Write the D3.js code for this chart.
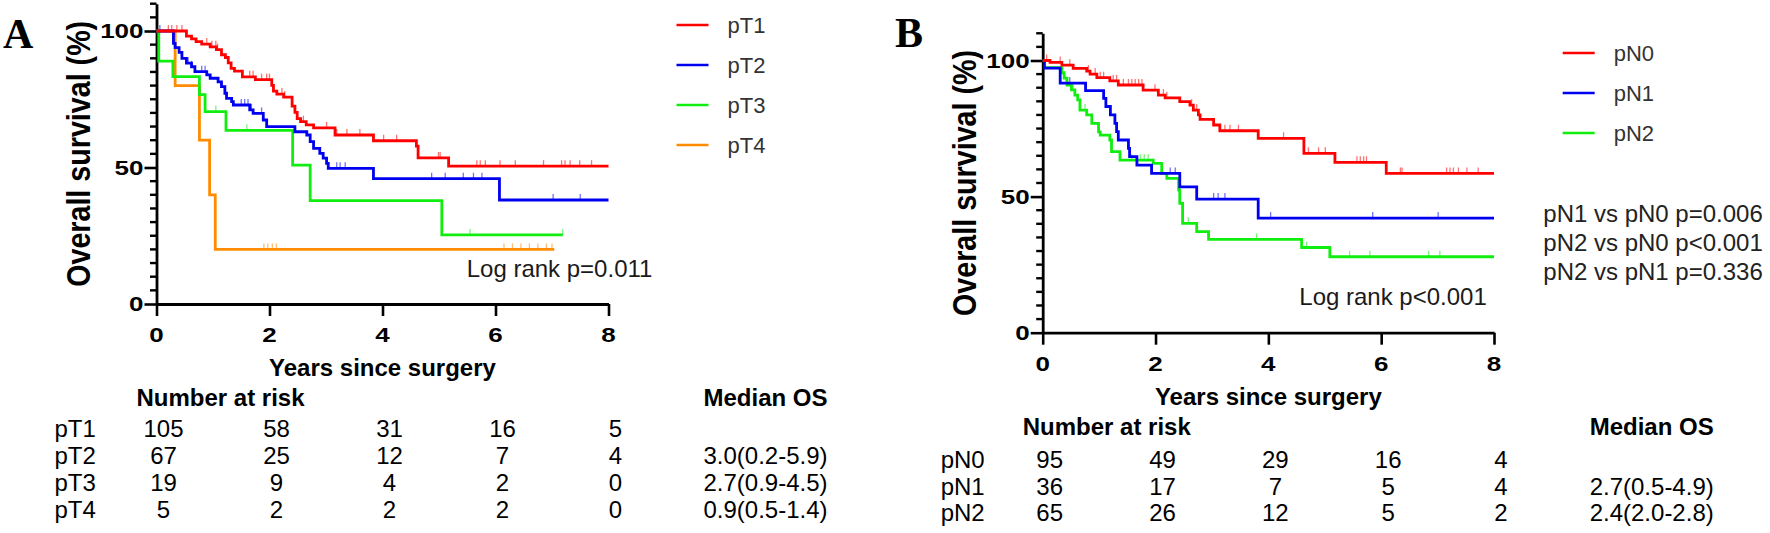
<!DOCTYPE html>
<html>
<head>
<meta charset="utf-8">
<script src="https://cdn.jsdelivr.net/npm/d3@7"></script>
<style>
html,body{margin:0;padding:0;background:#fff;}
svg{display:block;}
</style>
</head>
<body>
<svg id="chart" width="1770" height="533"></svg>
<script>
// ---------------- DATA ----------------
const riskTimes = [0, 2, 4, 6, 8];
const xTicks = [0, 2, 4, 6, 8];
const yTicksMajor = [0, 50, 100];
const yTicksMinor = [5, 10, 15, 20, 25, 30, 35, 40, 45, 55, 60, 65, 70, 75, 80, 85, 90, 95, 105, 110];

// Panel A : pT stage  (step points: [years, survival %])
const namesA = ["pT1", "pT2", "pT3", "pT4"];
const colorsA = ["#ff0000", "#0000f0", "#10ee10", "#ff8c00"];
const stepsT1 = [[0,100],[0.53,98.1],[0.62,97.1],[0.70,96.1],[0.80,95.2],[0.95,94.2],[1.06,93.2],[1.15,91.3],[1.22,90.3],[1.27,88.3],[1.32,86.3],[1.38,85.3],[1.52,83.2],[1.75,82.2],[2.04,80.1],[2.07,78.0],[2.13,76.9],[2.25,75.8],[2.40,72.5],[2.45,70.2],[2.49,67.9],[2.55,66.8],[2.65,65.6],[2.78,64.5],[3.16,61.9],[3.84,59.8],[4.60,57.8],[4.63,53.5],[5.17,50.5]];
const stepsT2 = [[0,100],[0.30,95.5],[0.33,93.9],[0.40,92.2],[0.45,90.0],[0.53,88.2],[0.62,86.9],[0.68,85.1],[0.89,83.9],[0.95,82.7],[1.09,81.4],[1.15,79.6],[1.21,77.2],[1.24,75.3],[1.33,74.1],[1.36,72.9],[1.65,71.1],[1.71,69.8],[1.89,67.4],[1.95,65.0],[2.45,63.1],[2.66,61.9],[2.72,59.5],[2.78,57.0],[2.89,55.2],[2.95,53.4],[3.01,51.5],[3.04,49.7],[3.84,45.9],[6.07,38.1]];
const stepsT3 = [[0,100],[0.04,89.0],[0.29,83.3],[0.76,76.7],[0.86,70.5],[1.23,63.6],[2.41,50.9],[2.72,37.9],[5.05,25.3]];
const stepsT4 = [[0,100],[0.33,80],[0.76,60],[0.94,40],[1.04,20]];
const endA = [8.0, 8.0, 7.19, 7.04];
const censT1 = [0.21,0.27,0.36,0.45,0.89,0.98,1.05,1.08,1.65,1.71,1.86,1.95,2.0,2.04,2.22,2.27,2.6,3.01,3.19,3.37,3.6,4.02,4.25,4.99,5.02,5.67,5.73,5.82,6.08,6.35,6.85,7.17,7.23,7.32,7.49,7.70];
const censT2 = [0.06,0.56,0.62,0.80,0.86,1.50,1.56,1.62,1.68,1.86,3.19,3.25,3.34,4.87,5.11,5.43,5.61,5.76,7.02,7.50];
const censT3 = [1.05,1.60,5.55,7.19];
const censT4 = [1.9,1.97,2.05,2.12,6.15,6.3,6.45,6.6,6.75,6.9,7.0];
const riskT1 = [105, 58, 31, 16, 5];
const riskT2 = [67, 25, 12, 7, 4];
const riskT3 = [19, 9, 4, 2, 0];
const riskT4 = [5, 2, 2, 2, 0];
const medianA = ["", "3.0(0.2-5.9)", "2.7(0.9-4.5)", "0.9(0.5-1.4)"];

// Panel B : pN stage
const namesB = ["pN0", "pN1", "pN2"];
const colorsB = ["#ff0000", "#0000f0", "#10ee10"];
const stepsN0 = [[0,100],[0.13,99.3],[0.34,98.3],[0.54,97.1],[0.78,96.1],[0.84,95.0],[0.96,93.7],[1.19,92.5],[1.34,91.0],[1.78,89.1],[2.05,87.3],[2.17,86.3],[2.43,84.9],[2.61,83.6],[2.67,81.8],[2.76,80.0],[2.79,78.4],[3.03,76.3],[3.14,74.2],[3.82,71.4],[4.63,65.9],[5.18,62.6],[6.09,58.5]];
const stepsN1 = [[0,100],[0.03,97.2],[0.31,91.7],[0.76,88.9],[1.08,86.1],[1.12,83.1],[1.20,80.0],[1.28,76.9],[1.31,73.9],[1.34,70.8],[1.52,67.7],[1.54,64.7],[1.67,61.6],[1.93,58.5],[2.43,53.6],[2.73,49.1],[3.82,42.1]];
const stepsN2 = [[0,100],[0.03,97.4],[0.34,95.5],[0.38,93.5],[0.43,91.0],[0.51,89.2],[0.57,87.3],[0.62,85.5],[0.66,81.8],[0.78,80.0],[0.87,76.9],[0.99,73.8],[1.02,72.6],[1.19,70.8],[1.22,66.5],[1.37,63.4],[1.96,62.2],[2.11,58.5],[2.20,56.7],[2.41,52.4],[2.43,47.5],[2.48,40.2],[2.73,37.1],[2.94,34.3],[4.59,31.3],[5.09,27.9]];
const endB = [8.0, 8.0, 8.0];
const censN0 = [0.07,0.31,0.48,0.81,0.93,1.02,1.08,1.25,1.31,1.43,1.52,1.58,1.64,1.70,1.76,1.99,2.14,2.2,2.64,2.67,2.73,3.23,3.32,3.47,4.27,4.71,4.89,5.01,5.57,5.63,5.69,5.74,6.34,6.37,7.16,7.22,7.28,7.37,7.52,7.72];
const censN1 = [0.43,0.48,2.26,2.35,3.03,3.11,3.23,4.04,5.85,7.01];
const censN2 = [0.54,0.75,1.58,1.73,1.80,1.87,2.58,3.79,4.68,5.44,5.80,6.84,7.04];
const riskN0 = [95, 49, 29, 16, 4];
const riskN1 = [36, 17, 7, 5, 4];
const riskN2 = [65, 26, 12, 5, 2];
const medianB = ["", "2.7(0.5-4.9)", "2.4(2.0-2.8)"];
const pairwiseB = ["pN1 vs pN0 p=0.006", "pN2 vs pN0 p<0.001", "pN2 vs pN1 p=0.336"];

// ---------------- DRAW ----------------
const SANS = '"Liberation Sans",Arial,Helvetica,sans-serif';
const SERIF = '"Liberation Serif","Times New Roman",serif';
const svg = d3.select("#chart").style("font-family", SANS);

function survAt(steps, t) {
  let s = steps[0][1];
  for (const p of steps) { if (p[0] <= t) s = p[1]; }
  return s;
}

function stretchText(g, x, y, str, opts) {
  const t = g.append("text")
    .attr("transform", `translate(${x},${y}) scale(${opts.sx || 1},1)`)
    .attr("text-anchor", opts.anchor || "start")
    .attr("font-size", opts.size)
    .attr("font-weight", opts.weight || "normal")
    .attr("fill", opts.fill || "#000")
    .text(str);
  if (opts.dy) t.attr("dy", opts.dy);
  return t;
}

function panel(cfg) {
  const g = svg.append("g");
  const x = d3.scaleLinear().domain([0, 8]).range(cfg.xr);
  const y = d3.scaleLinear().domain([0, 100]).range(cfg.yr);

  // panel letter
  g.append("text").attr("x", cfg.letterX).attr("y", cfg.letterY)
    .style("font-family", SERIF)
    .attr("font-weight", "bold").attr("font-size", 42).text(cfg.letter);

  // Y axis minor ticks (drawn from the scale)
  g.append("g").selectAll("line").data(yTicksMinor).join("line")
    .attr("x1", x(0) - 6.5).attr("x2", x(0))
    .attr("y1", d => y(d)).attr("y2", d => y(d))
    .attr("stroke", "#000").attr("stroke-width", 2.4);

  // Y axis (0..110) with major ticks
  const yFull = d3.scaleLinear().domain([0, 110]).range([y(0), y(110)]);
  const yMaj = g.append("g").attr("transform", `translate(${x(0)},0)`)
    .call(d3.axisLeft(yFull).tickValues(yTicksMajor).tickSize(12).tickSizeOuter(0).tickFormat(""));
  yMaj.select(".domain").attr("stroke", "#000").attr("stroke-width", 2.8);
  yMaj.selectAll(".tick line").attr("stroke", "#000").attr("stroke-width", 2.6);
  yTicksMajor.forEach(v => {
    stretchText(g, x(0) - 13, y(v), String(v), {anchor: "end", size: 20, weight: "bold", sx: 1.3, dy: "0.36em"});
  });

  // X axis
  const xAx = g.append("g").attr("transform", `translate(0,${y(0)})`)
    .call(d3.axisBottom(x).tickValues(xTicks).tickSize(12).tickSizeOuter(0).tickFormat(""));
  xAx.select(".domain").attr("stroke", "#000").attr("stroke-width", 2.8);
  xAx.selectAll(".tick line").attr("stroke", "#000").attr("stroke-width", 2.6);
  xTicks.forEach(v => {
    stretchText(g, x(v), y(0) + 31, String(v), {anchor: "middle", size: 20, weight: "bold", sx: 1.3, dy: "0.36em"});
  });

  // Y label
  const ymid = (y(0) + yFull(110)) / 2;
  g.append("text")
    .attr("transform", `translate(${x(0) - 67},${ymid}) rotate(-90) scale(1,1.1)`)
    .attr("text-anchor", "middle").attr("font-size", 31).attr("font-weight", "bold")
    .attr("textLength", 266).attr("lengthAdjust", "spacingAndGlyphs")
    .text("Overall survival (%)");

  // X label
  g.append("text").attr("x", (x(0) + x(8)) / 2).attr("y", y(0) + 72)
    .attr("text-anchor", "middle").attr("font-size", 24).attr("font-weight", "bold")
    .text("Years since surgery");

  // curves
  const line = d3.line().x(d => x(d[0])).y(d => y(d[1])).curve(d3.curveStepAfter);
  cfg.series.forEach((s, i) => {
    g.append("g").selectAll("line").data(s.cens).join("line")
      .attr("x1", d => x(d)).attr("x2", d => x(d))
      .attr("y1", d => y(survAt(s.steps, d))).attr("y2", d => y(survAt(s.steps, d)) - 6)
      .attr("stroke", cfg.colors[i]).attr("stroke-width", 1.3).attr("opacity", 0.55);
  });
  cfg.series.slice().reverse().forEach((s, ri) => {
    const i = cfg.series.length - 1 - ri;
    const pts = s.steps.concat([[cfg.ends[i], s.steps[s.steps.length - 1][1]]]);
    g.append("path").datum(pts).attr("d", line)
      .attr("fill", "none").attr("stroke", cfg.colors[i]).attr("stroke-width", 2.8);
  });

  // legend
  cfg.names.forEach((n, i) => {
    const ly = cfg.legY + i * 40;
    g.append("line").attr("x1", x(0) + 520).attr("x2", x(0) + 552)
      .attr("y1", ly).attr("y2", ly).attr("stroke", cfg.colors[i]).attr("stroke-width", 2.5);
    g.append("text").attr("x", x(0) + 571).attr("y", ly).attr("dy", "0.36em")
      .attr("font-size", 22).attr("fill", "#333").text(n);
  });

  // log rank
  g.append("text").attr("x", cfg.logX).attr("y", y(0) - 27.5)
    .attr("font-size", 24).attr("fill", "#1a1a1a").text(cfg.logText);

  // Number at risk table
  g.append("text").attr("x", x(0) - 20).attr("y", y(0) + 102)
    .attr("font-size", 24).attr("font-weight", "bold").text("Number at risk");
  g.append("text").attr("x", x(0) + 609).attr("y", y(0) + 102)
    .attr("text-anchor", "middle").attr("font-size", 24).attr("font-weight", "bold").text("Median OS");
  cfg.names.forEach((n, i) => {
    const ry = cfg.rowY0 + i * cfg.rowGap;
    g.append("text").attr("x", x(0) - 102).attr("y", ry).attr("font-size", 24).text(n);
    g.append("g").selectAll("text").data(cfg.risk[i]).join("text")
      .attr("x", (d, j) => x(riskTimes[j]) + 7).attr("y", ry)
      .attr("text-anchor", "middle").attr("font-size", 24).text(d => d);
    g.append("text").attr("x", x(0) + 609).attr("y", ry)
      .attr("text-anchor", "middle").attr("font-size", 24).text(cfg.median[i]);
  });
  return {g, x, y};
}

panel({
  letter: "A", letterX: 3, letterY: 48,
  xr: [156.5, 608.5], yr: [304, 31],
  names: namesA, colors: colorsA,
  series: [
    {steps: stepsT1, cens: censT1},
    {steps: stepsT2, cens: censT2},
    {steps: stepsT3, cens: censT3},
    {steps: stepsT4, cens: censT4}
  ],
  ends: endA, legY: 25,
  logX: 466.7, logText: "Log rank p=0.011",
  risk: [riskT1, riskT2, riskT3, riskT4], median: medianA,
  rowY0: 437, rowGap: 27
});

const pB = panel({
  letter: "B", letterX: 895, letterY: 47,
  xr: [1042.7, 1494], yr: [332.7, 60.5],
  names: namesB, colors: colorsB,
  series: [
    {steps: stepsN0, cens: censN0},
    {steps: stepsN1, cens: censN1},
    {steps: stepsN2, cens: censN2}
  ],
  ends: endB, legY: 53,
  logX: 1299.3, logText: "Log rank p<0.001",
  risk: [riskN0, riskN1, riskN2], median: medianB,
  rowY0: 468, rowGap: 26.5
});

pB.g.append("g").selectAll("text").data(pairwiseB).join("text")
  .attr("x", 1543.3).attr("y", (d, i) => 222 + i * 29)
  .attr("font-size", 24).attr("fill", "#222").text(d => d);
</script>
</body>
</html>
